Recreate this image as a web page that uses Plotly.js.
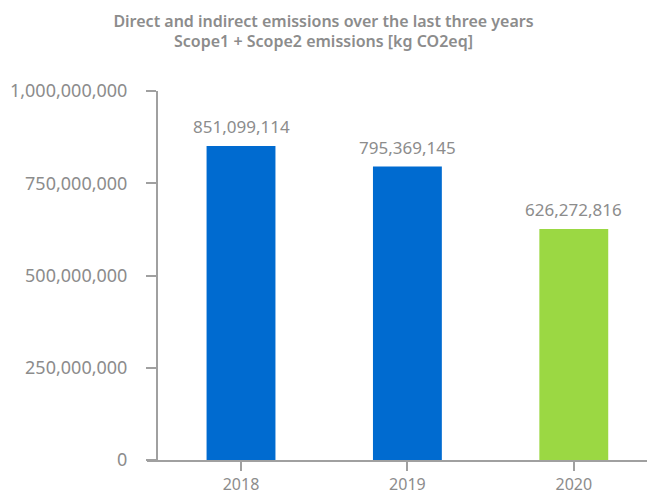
<!DOCTYPE html>
<html>
<head>
<meta charset="utf-8">
<script src="https://cdn.plot.ly/plotly-3.0.1.min.js"></script>
<style>html,body{margin:0;padding:0;background:#fff;}#chart{width:647px;height:494px;}</style>
</head>
<body>
<div id="chart"></div>
<script>
const years = ['2018', '2019', '2020'];
const emissions = [851099114, 795369145, 626272816];
const barColors = ['#006bd0', '#006bd0', '#9bd843'];
const yTickVals = [0, 250000000, 500000000, 750000000, 1000000000];
const yTickText = ['0', '250,000,000', '500,000,000', '750,000,000', '1,000,000,000'];
const titleText = 'Direct and indirect emissions over the last three years<br>Scope1 + Scope2 emissions [kg CO2eq]';

const gray = '#8c8c8c';
const fontFam = 'Noto Sans, sans-serif';

function fmt(v) {
  return String(v).replace(/\B(?=(\d{3})+(?!\d))/g, ',');
}

const trace = {
  type: 'bar',
  x: years,
  y: emissions,
  marker: {color: barColors},
  width: 0.414,
  cliponaxis: false,
  hoverinfo: 'none'
};

const labels = years.map((yr, i) => ({
  x: i, y: emissions[i], xref: 'x', yref: 'y',
  text: fmt(emissions[i]),
  showarrow: false, xanchor: 'center', yanchor: 'bottom', yshift: 6,
  font: {family: fontFam, size: 17, color: gray}
}));

const layout = {
  width: 647,
  height: 494,
  margin: {l: 147, r: 0, t: 91, b: 34},
  paper_bgcolor: '#fff',
  plot_bgcolor: '#fff',
  showlegend: false,
  annotations: labels,
  title: {
    text: titleText,
    font: {family: fontFam, size: 16, color: gray, weight: 600},
    x: 0.5, xanchor: 'center', xref: 'container',
    y: 0.946, yanchor: 'middle', yref: 'container'
  },
  xaxis: {
    type: 'category',
    range: [-0.565, 2.44],
    domain: [0, 1],
    showline: true, linecolor: '#a0a0a0', linewidth: 2,
    ticks: 'outside', ticklen: 9, tickwidth: 2, tickcolor: '#a0a0a0',
    tickfont: {family: fontFam, size: 16, color: gray},
    showgrid: false, zeroline: false
  },
  yaxis: {
    range: [0, 1000000000],
    anchor: 'free', position: 0.02,
    tickvals: yTickVals, ticktext: yTickText,
    showline: true, linecolor: '#a0a0a0', linewidth: 2,
    ticks: 'outside', ticklen: 10, tickwidth: 2, tickcolor: '#a0a0a0',
    ticklabelstandoff: 15,
    tickfont: {family: fontFam, size: 18, color: gray},
    showgrid: false, zeroline: false
  }
};

Plotly.newPlot('chart', [trace], layout, {displayModeBar: false, staticPlot: true});
</script>
</body>
</html>
